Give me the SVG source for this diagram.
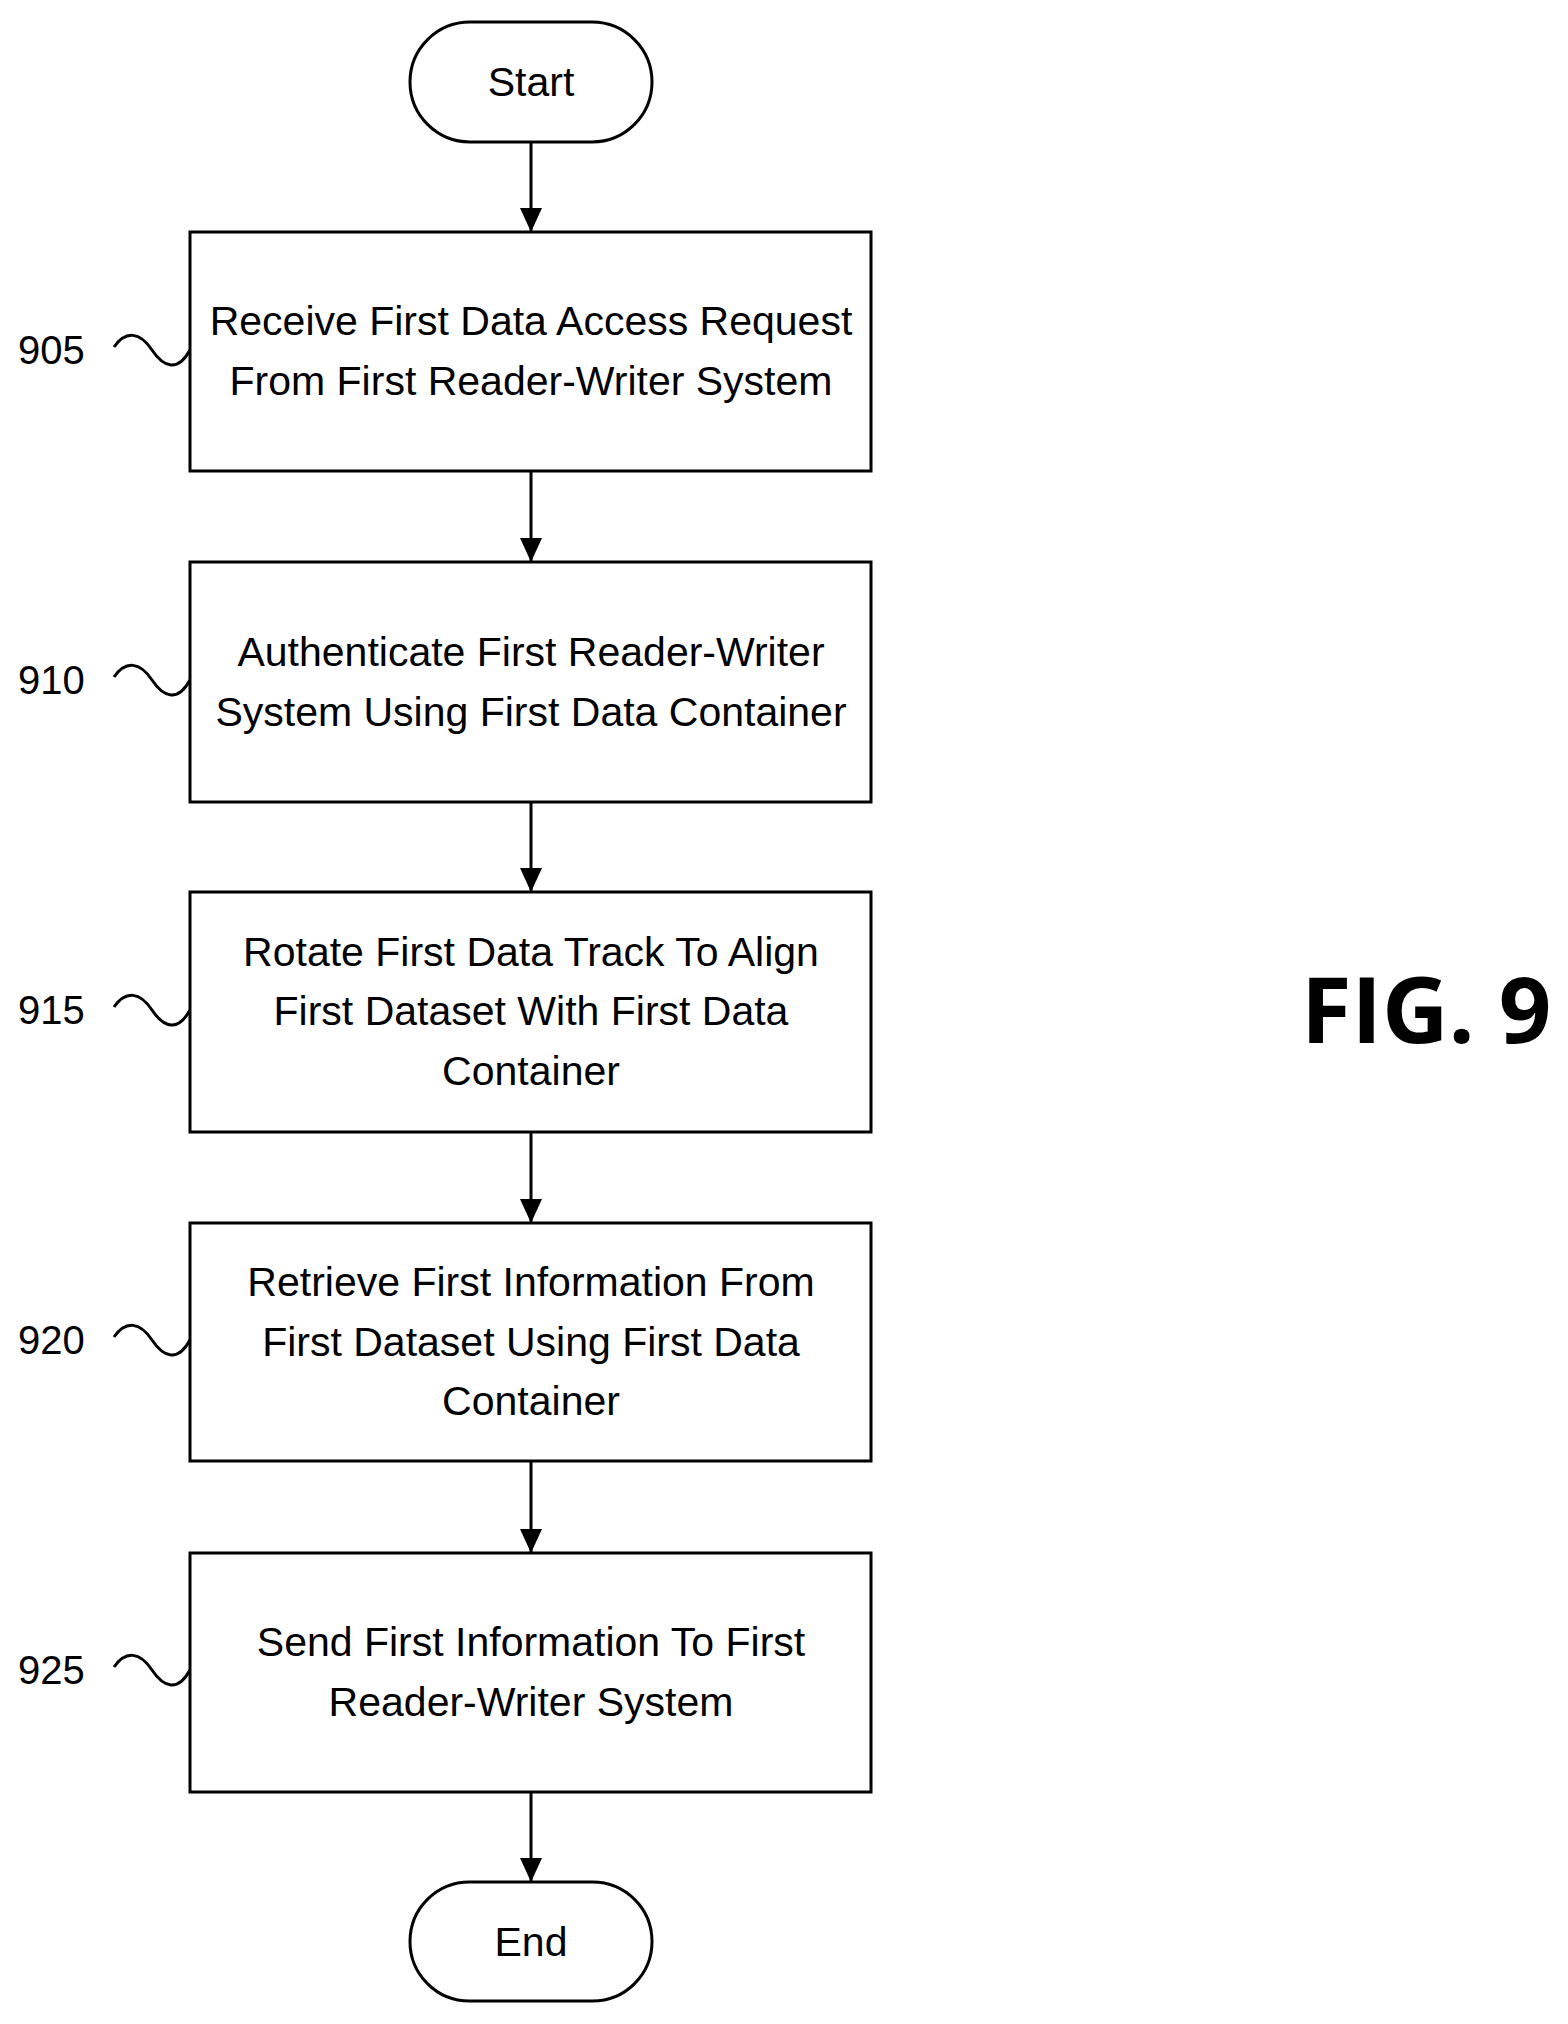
<svg xmlns="http://www.w3.org/2000/svg" width="1568" height="2024" viewBox="0 0 1568 2024">
<style>
.b{fill:#fff;stroke:#000;stroke-width:3}
.t{font-family:"Liberation Sans",Arial,sans-serif;font-size:41px;text-anchor:middle}
.n{font-family:"Liberation Sans",Arial,sans-serif;font-size:40px}
.c{stroke:#000;stroke-width:3;fill:none}
</style>
<defs>
<marker id="ah" markerWidth="24" markerHeight="22" refX="24" refY="11" orient="auto" markerUnits="userSpaceOnUse"><path d="M0,0 L24,11 L0,22 z"/></marker></defs>
<rect width="1568" height="2024" fill="#fff"/>
<g id="connectors">
<line class="c" x1="531" y1="142" x2="531" y2="232" marker-end="url(#ah)"/>
<line class="c" x1="531" y1="471" x2="531" y2="562" marker-end="url(#ah)"/>
<line class="c" x1="531" y1="802" x2="531" y2="892" marker-end="url(#ah)"/>
<line class="c" x1="531" y1="1132" x2="531" y2="1223" marker-end="url(#ah)"/>
<line class="c" x1="531" y1="1461" x2="531" y2="1553" marker-end="url(#ah)"/>
<line class="c" x1="531" y1="1792" x2="531" y2="1882" marker-end="url(#ah)"/>
<path class="c" d="M114,347 C126,330 140,332 152,350 S178,372 190,350"/>
<path class="c" d="M114,677 C126,660 140,662 152,680 S178,702 190,680"/>
<path class="c" d="M114,1007 C126,990 140,992 152,1010 S178,1032 190,1010"/>
<path class="c" d="M114,1337 C126,1320 140,1322 152,1340 S178,1362 190,1340"/>
<path class="c" d="M114,1667 C126,1650 140,1652 152,1670 S178,1692 190,1670"/>
</g>
<g id="start"><rect class="b" x="410" y="22" width="242" height="120" rx="60"/><text class="t" x="531" y="96">Start</text></g>
<g id="n905"><rect class="b" x="190" y="232" width="681" height="239"/><text class="t" x="531" y="335">Receive First Data Access Request</text><text class="t" x="531" y="395">From First Reader-Writer System</text><text class="n" x="18" y="364">905</text></g>
<g id="n910"><rect class="b" x="190" y="562" width="681" height="240"/><text class="t" x="531" y="666">Authenticate First Reader-Writer</text><text class="t" x="531" y="726">System Using First Data Container</text><text class="n" x="18" y="694">910</text></g>
<g id="n915"><rect class="b" x="190" y="892" width="681" height="240"/><text class="t" x="531" y="966">Rotate First Data Track To Align</text><text class="t" x="531" y="1025">First Dataset With First Data</text><text class="t" x="531" y="1085">Container</text><text class="n" x="18" y="1024">915</text></g>
<g id="n920"><rect class="b" x="190" y="1223" width="681" height="238"/><text class="t" x="531" y="1296">Retrieve First Information From</text><text class="t" x="531" y="1356">First Dataset Using First Data</text><text class="t" x="531" y="1415">Container</text><text class="n" x="18" y="1354">920</text></g>
<g id="n925"><rect class="b" x="190" y="1553" width="681" height="239"/><text class="t" x="531" y="1656">Send First Information To First</text><text class="t" x="531" y="1716">Reader-Writer System</text><text class="n" x="18" y="1684">925</text></g>
<g id="end"><rect class="b" x="410" y="1882" width="242" height="119" rx="59.5"/><text class="t" x="531" y="1956">End</text></g>
<text x="1301" y="1043" style="font-family:'Open Sans','DejaVu Sans',sans-serif;font-size:92px;font-weight:bold">FIG. 9</text>
</svg>
